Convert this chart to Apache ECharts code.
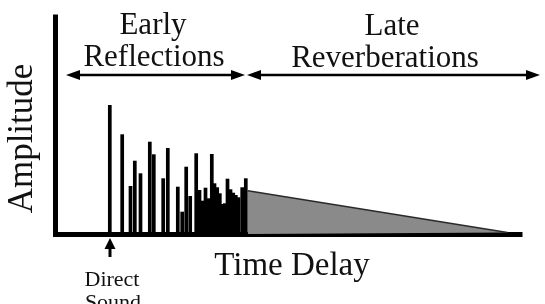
<!DOCTYPE html>
<html>
<head>
<meta charset="utf-8">
<script src="https://cdn.jsdelivr.net/npm/echarts@6/dist/echarts.min.js"></script>
<style>
html,body{margin:0;padding:0;background:#fff;}
#c{width:545px;height:304px;}
</style>
</head>
<body>
<div id="c"></div>
<script>
// Reflection arrival times (arbitrary units) and amplitudes
var reflTime = [54.3, 66.7, 75, 79.3, 85, 94.3, 98.3, 107.7, 112.3, 122.3, 126.7, 130.7, 134.7, 140.7, 144, 147.3, 150, 153.3, 156.3, 159, 161.7, 164.3, 167, 169.3, 172, 175, 177.7, 180.3, 183, 186.7, 190.3];
var reflAmp  = [129, 99.7, 48, 73.3, 60.7, 92.3, 79.7, 55.7, 86, 47.3, 22.3, 67.3, 38, 80.7, 44, 33.3, 46.3, 35.7, 80, 50.7, 46.7, 40.7, 30, 30.7, 55.3, 44.7, 41.3, 39, 36.7, 46.7, 55.7];
// Late reverberation decay envelope
var reverbTime = [192.3, 452];
var reverbAmp  = [43.3, 1.5];
// Text labels
var earlyLabel = ['Early', 'Reflections'];
var lateLabel = ['Late', 'Reverberations'];
var xName = 'Time Delay';
var yName = 'Amplitude';
var directLabel = ['Direct', 'Sound'];

var chart = echarts.init(document.getElementById('c'), null, {renderer: 'canvas'});
var font = '"Liberation Serif", "Times New Roman", serif';

function pair(a, b) { return a.map(function (v, i) { return [v, b[i]]; }); }

function arrow(x1, x2, y) {
  var hl = 14, hh = 5;
  return [
    {type: 'line', shape: {x1: x1 + 6, y1: y, x2: x2 - 6, y2: y}, style: {stroke: '#000', lineWidth: 2.5}},
    {type: 'polygon', shape: {points: [[x1, y], [x1 + hl, y - hh], [x1 + hl, y + hh]]}, style: {fill: '#000'}},
    {type: 'polygon', shape: {points: [[x2, y], [x2 - hl, y - hh], [x2 - hl, y + hh]]}, style: {fill: '#000'}}
  ];
}
function txt(s, x, y, size, rot) {
  return {type: 'text', x: x, y: y, rotation: rot || 0,
    style: {text: s, font: size + 'px ' + font, fill: '#111', align: 'center', verticalAlign: 'middle'}};
}

var graphics = [].concat(
  arrow(66, 245, 75),
  arrow(247, 540, 75),
  [
    txt(earlyLabel[0], 153, 26, 31),
    txt(earlyLabel[1], 154, 58, 31),
    txt(lateLabel[0], 392, 27, 31),
    txt(lateLabel[1], 385, 58.5, 31),
    txt(xName, 292, 266, 33),
    txt(yName, 23, 138.5, 35, Math.PI / 2),
    txt(directLabel[0], 112, 280, 22),
    txt(directLabel[1], 113, 303, 22),
    {type: 'polygon', shape: {points: [[110, 238], [104.5, 249], [115.5, 249]]}, style: {fill: '#000'}},
    {type: 'rect', shape: {x: 108.5, y: 248, width: 3, height: 9}, style: {fill: '#000'}}
  ]
);

chart.setOption({
  animation: false,
  backgroundColor: '#fff',
  grid: {left: 55.5, right: 25, top: 17, bottom: 70},
  xAxis: {
    type: 'value', min: 0, max: 464.5,
    axisLine: {show: true, lineStyle: {color: '#000', width: 5, cap: 'square'}},
    axisTick: {show: false}, axisLabel: {show: false}, splitLine: {show: false}
  },
  yAxis: {
    type: 'value', min: 0, max: 217,
    axisLine: {show: true, onZero: false, lineStyle: {color: '#000', width: 5, cap: 'square'}},
    axisTick: {show: false}, axisLabel: {show: false}, splitLine: {show: false}
  },
  series: [
    {
      type: 'line', data: pair(reverbTime, reverbAmp), symbol: 'none', z: 1,
      lineStyle: {color: '#2a2a2a', width: 1.5},
      areaStyle: {color: '#8a8a8a', opacity: 1}
    },
    {
      type: 'bar', data: pair(reflTime, reflAmp), barWidth: 3.7, z: 3,
      itemStyle: {color: '#000'}
    }
  ],
  graphic: graphics
});
</script>
</body>
</html>
